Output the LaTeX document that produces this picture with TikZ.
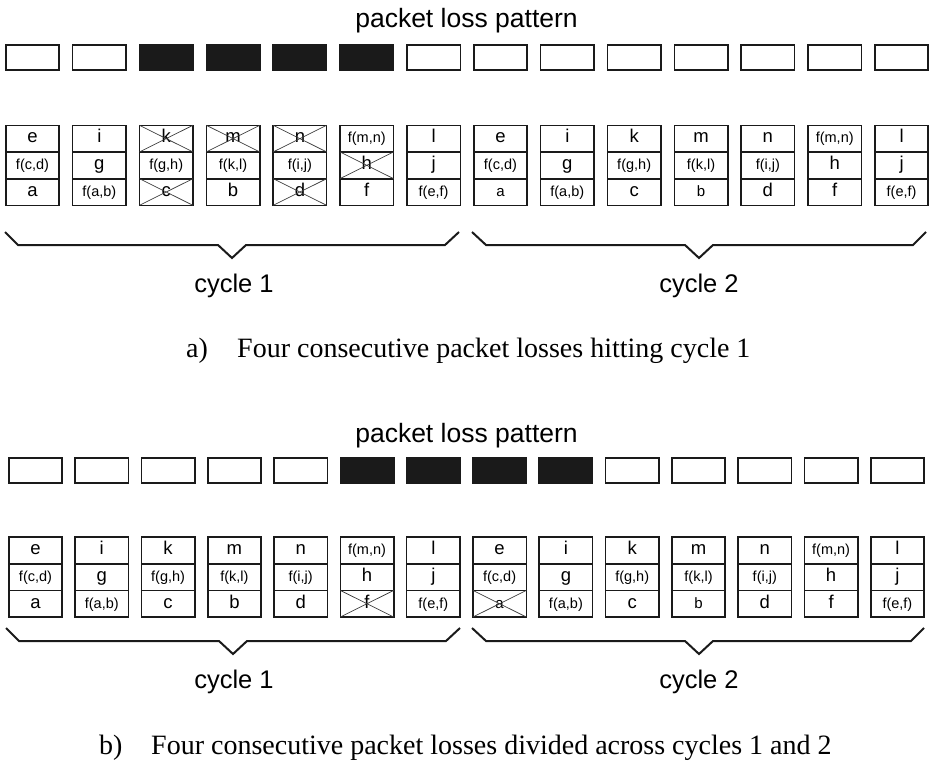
\documentclass[tikz,border=0pt]{standalone}
\usepackage{fontspec}
\setmainfont{Liberation Serif}
\setsansfont{Liberation Sans}
\newcommand\fl[1]{{\fontsize{14.5}{14.5}\selectfont #1}}
\newcommand\sm[1]{{\fontsize{15}{15}\selectfont #1}}
\definecolor{ink}{HTML}{1A1A1A}
\begin{document}
\begin{tikzpicture}[x=1pt,y=-1pt,
  pat/.style={draw=ink, line width=1.6pt, minimum width=53.4pt, minimum height=25.4pt, inner sep=0pt, outer sep=0pt},
  cell/.style={draw=ink, line width=1.6pt, minimum width=53.4pt, minimum height=26.6pt, inner sep=0pt, outer sep=0pt,
    font=\sffamily\fontsize{18.5}{18.5}\selectfont, text height=12.5pt, text depth=3.8pt},
  xl/.style={line width=0.7pt, draw=ink!85},
  bracestyle/.style={line width=2pt, draw=ink},
  titlestyle/.style={font=\sffamily\fontsize{26.5}{26.5}\selectfont, anchor=base, inner sep=0pt},
  cyc/.style={font=\sffamily\fontsize{25.5}{25.5}\selectfont, anchor=base, inner sep=0pt},
  captext/.style={font=\fontsize{28}{28}\selectfont, anchor=base west, inner sep=0pt}]
\useasboundingbox (0,0) rectangle (931,761);
\def\cols{1/e/{\fl{f(c,d)}}/a, 2/i/g/{\fl{f(a,b)}}, 3/k/{\fl{f(g,h)}}/c, 4/m/{\fl{f(k,l)}}/b, 5/n/{\fl{f(i,j)}}/d, 6/{\fl{f(m,n)}}/h/f, 7/l/j/{\fl{f(e,f)}}, 8/e/{\fl{f(c,d)}}/{\sm{a}}, 9/i/g/{\fl{f(a,b)}}, 10/k/{\fl{f(g,h)}}/c, 11/m/{\fl{f(k,l)}}/{\sm{b}}, 12/n/{\fl{f(i,j)}}/d, 13/{\fl{f(m,n)}}/h/f, 14/l/j/{\fl{f(e,f)}}}
% ---------- figure a ----------
\node[titlestyle] (ta) at (466.5,27) {packet loss pattern};
\foreach \c/\p/\q/\r in \cols {
  \pgfmathsetmacro\xx{32.5+66.85*(\c-1)}
  \def\fc{white}
  \ifnum\c>2 \ifnum\c<7 \def\fc{ink}\fi\fi
  \node[pat, fill=\fc] (PA\c) at (\xx,57.5) {};
  \node[cell] (A\c-1) at (\xx,138.6) {\p};
  \node[cell] (A\c-2) at (\xx,165.3) {\q};
  \node[cell] (A\c-3) at (\xx,192.0) {\r};
}
\foreach \n in {A3-1,A3-3,A4-1,A5-1,A5-3,A6-2}
  \draw[xl] (\n.north west) -- (\n.south east) (\n.south west) -- (\n.north east);
\draw[bracestyle] (5,232) -- (18,245) -- (218,245) -- (232,258) -- (246,245) -- (445,245) -- (459,232);
\draw[bracestyle] (472,232) -- (486,245) -- (685,245) -- (699,258) -- (713,245) -- (913,245) -- (926,232);
\node[cyc] (ca1) at (234,292) {cycle 1};
\node[cyc] (ca2) at (699,292) {cycle 2};
\node[captext] (capa) at (186,357) {a)};
\node[captext] (capat) at (237,357) {Four consecutive packet losses hitting cycle 1};
% ---------- figure b ----------
\node[titlestyle] (tb) at (466.5,442) {packet loss pattern};
\foreach \c/\p/\q/\r in \cols {
  \pgfmathsetmacro\xx{35.5+66.3*(\c-1)}
  \def\fc{white}
  \ifnum\c>5 \ifnum\c<10 \def\fc{ink}\fi\fi
  \node[pat, fill=\fc] (PB\c) at (\xx,470.5) {};
  \node[cell] (B\c-1) at (\xx,550.5) {\p};
  \node[cell] (B\c-2) at (\xx,577.1) {\q};
  \node[cell] (B\c-3) at (\xx,603.7) {\r};
}
\foreach \n in {B6-3,B8-3}
  \draw[xl] (\n.north west) -- (\n.south east) (\n.south west) -- (\n.north east);
\draw[bracestyle] (6,628) -- (19,641) -- (219,641) -- (233,654) -- (247,641) -- (446,641) -- (460,628);
\draw[bracestyle] (472,628) -- (486,641) -- (685,641) -- (699,654) -- (713,641) -- (911,641) -- (924,628);
\node[cyc] (cb1) at (234,688) {cycle 1};
\node[cyc] (cb2) at (699,688) {cycle 2};
\node[captext] (capb) at (99,754) {b)};
\node[captext] (capbt) at (151,754) {Four consecutive packet losses divided across cycles 1 and 2};
\end{tikzpicture}
\end{document}
